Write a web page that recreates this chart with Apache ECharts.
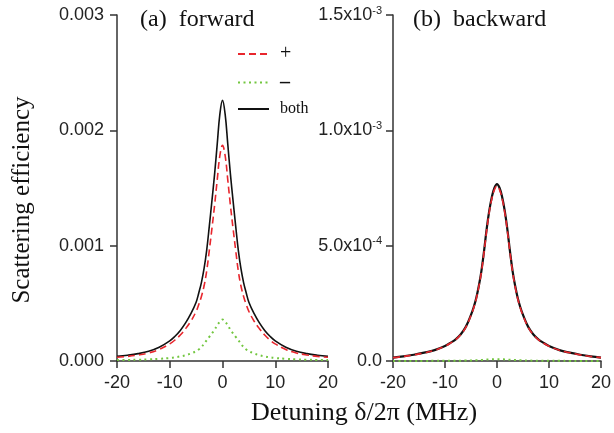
<!DOCTYPE html>
<html>
<head>
<meta charset="utf-8">
<script src="https://cdn.jsdelivr.net/npm/echarts@6/dist/echarts.min.js"></script>
<style>html,body{margin:0;padding:0;background:#fff}#c{width:614px;height:433px}</style>
</head>
<body>
<div id="c"></div>
<script>
// Detuning δ/2π (MHz)
const xs = [-20,-18,-16,-14,-12,-10,-9,-8,-7,-6,-5,-4.5,-4,-3.5,-3,-2.5,-2,-1.5,-1,-0.5,0,0.5,1,1.5,2,2.5,3,3.5,4,4.5,5,6,7,8,9,10,12,14,16,18,20];

// (a) forward
const fwdBoth = [0.00004,0.00005,0.000064,0.000085,0.00012,0.000175,0.000215,0.000265,0.00033,0.00041,0.00051,0.00059,0.00068,0.0008,0.00096,0.00117,0.00139,0.00162,0.00188,0.00214,0.00226,
                 0.00214,0.00188,0.00162,0.00139,0.00117,0.00096,0.0008,0.00068,0.00059,0.00051,0.00041,0.00033,0.000265,0.000215,0.000175,0.00012,0.000085,0.000064,0.00005,0.00004];
const fwdPlus = [0.000032,0.00004,0.000052,0.00007,0.0001,0.000148,0.000182,0.000225,0.00028,0.000345,0.00043,0.00049,0.00056,0.00065,0.00078,0.00096,0.00115,0.00135,0.00157,0.00178,0.00187,
                 0.00178,0.00157,0.00135,0.00115,0.00096,0.00078,0.00065,0.00056,0.00049,0.00043,0.000345,0.00028,0.000225,0.000182,0.000148,0.0001,0.00007,0.000052,0.00004,0.000032];
const fwdMinus = [0.000008,0.000009,0.000011,0.000014,0.000019,0.000026,0.000032,0.00004,0.00005,0.000065,0.000085,0.0001,0.00012,0.00015,0.00018,0.00021,0.00024,0.00027,0.00031,0.00034,0.00036,
                  0.00034,0.00031,0.00027,0.00024,0.00021,0.00018,0.00015,0.00012,0.0001,0.000085,0.000065,0.00005,0.00004,0.000032,0.000026,0.000019,0.000014,0.000011,0.000009,0.000008];

// (b) backward
const bwdBoth = [0.000015,0.00002,0.000027,0.000036,0.000047,0.000065,0.000078,0.000093,0.000115,0.000148,0.0002,0.000232,0.000272,0.000325,0.00039,0.000475,0.00057,0.00065,0.00071,0.00075,0.000767,
                 0.00075,0.00071,0.00065,0.00057,0.000475,0.00039,0.000325,0.000272,0.000232,0.0002,0.000148,0.000115,0.000093,0.000078,0.000065,0.000047,0.000036,0.000027,0.00002,0.000015];
const bwdPlus = [0.0000147,0.0000197,0.0000266,0.0000355,0.0000464,0.0000642,0.000077,0.0000918,0.0001135,0.000146,0.0001975,0.000229,0.000269,0.000321,0.000386,0.00047,0.000564,0.000643,0.000703,0.000742,0.000759,
                 0.000742,0.000703,0.000643,0.000564,0.00047,0.000386,0.000321,0.000269,0.000229,0.0001975,0.000146,0.0001135,0.0000918,0.000077,0.0000642,0.0000464,0.0000355,0.0000266,0.0000197,0.0000147];
const bwdMinus = [0.0000003,0.0000003,0.0000004,0.0000005,0.0000006,0.0000008,0.000001,0.0000012,0.0000015,0.0000019,0.0000025,0.0000029,0.0000033,0.0000039,0.0000045,0.0000052,0.000006,0.0000068,0.0000074,0.0000078,0.000008,
                  0.0000078,0.0000074,0.0000068,0.000006,0.0000052,0.0000045,0.0000039,0.0000033,0.0000029,0.0000025,0.0000019,0.0000015,0.0000012,0.000001,0.0000008,0.0000006,0.0000005,0.0000004,0.0000003,0.0000003];

// tick labels
const xTickLabels = ['-20','-10','0','10','20'];
const fwdTickLabels = ['0.000','0.001','0.002','0.003'];
const bwdTickBase = ['0.0','5.0x10','1.0x10','1.5x10'];
const bwdTickExp = ['','-4','-3','-3'];

const seriesNames = ['+','–','both'];
const panelTitles = ['(a)  forward','(b)  backward'];
const xTitle = 'Detuning δ/2π (MHz)';
const yTitle = 'Scattering efficiency';

const SANS = '"Liberation Sans", Arial, sans-serif';
const SERIF = '"Liberation Serif", "Times New Roman", serif';
const RED = '#e8262d', GREEN = '#72c63f', BLACK = '#111';
const AX = '#333';

const pairs = ys => xs.map((x, i) => [x, ys[i]]);

function xAxisCfg(gi) {
  return {
    type: 'value', gridIndex: gi, min: -20, max: 20, interval: 10,
    axisLine: {show: true, onZero: false, lineStyle: {color: AX, width: 1.5}},
    axisTick: {show: true, length: 7, lineStyle: {color: AX, width: 1.5}},
    splitLine: {show: false},
    axisLabel: {color: '#222', fontFamily: SANS, fontSize: 18, margin: 13,
      formatter: (v, i) => xTickLabels[i]}
  };
}
function yAxisCfg(gi, max, interval, fmt, margin, rich) {
  return {
    type: 'value', gridIndex: gi, min: 0, max: max, interval: interval,
    axisLine: {show: true, onZero: false, lineStyle: {color: AX, width: 1.5}},
    axisTick: {show: true, length: 7, lineStyle: {color: AX, width: 1.5}},
    splitLine: {show: false},
    axisLabel: {color: '#222', fontFamily: SANS, fontSize: 18, margin: margin, formatter: fmt, rich: rich}
  };
}

function lineSeries(name, data, xi, color, type, width, z) {
  return {
    name: name, type: 'line', xAxisIndex: xi, yAxisIndex: xi, data: pairs(data),
    symbol: 'none', smooth: 0.4, z: z, animation: false,
    lineStyle: {color: color, width: width, type: type, cap: 'butt'},
    itemStyle: {color: color}
  };
}

const chart = echarts.init(document.getElementById('c'));
chart.setOption({
  backgroundColor: '#fff',
  animation: false,
  grid: [
    {left: 117, right: 286, top: 15, bottom: 72},
    {left: 393, right: 10, top: 15, bottom: 72}
  ],
  xAxis: [xAxisCfg(0), xAxisCfg(1)],
  yAxis: [
    yAxisCfg(0, 0.003, 0.001, (v, i) => fwdTickLabels[i], 13),
    yAxisCfg(1, 0.0015, 0.0005,
      (v, i) => bwdTickExp[i] ? '{m|' + bwdTickBase[i] + '}{s|' + bwdTickExp[i] + '}' : '{m|' + bwdTickBase[i] + '}',
      11,
      {m: {fontFamily: SANS, fontSize: 18, color: '#222'},
       s: {fontFamily: SANS, fontSize: 11, color: '#222', verticalAlign: 'top', padding: [0, 0, 9, 0]}})
  ],
  legend: {
    data: seriesNames, orient: 'vertical', left: 232, top: 39,
    itemWidth: 31, itemHeight: 14, itemGap: 8.5,
    itemStyle: {opacity: 0},
    formatter: n => n === '–' ? '{b|' + n + '}' : (n === '+' ? '{p|' + n + '}' : '{t|' + n + '}'),
    textStyle: {fontFamily: SERIF, fontSize: 16, lineHeight: 14, height: 14, color: '#111', padding: [0, 0, 0, 6],
      rich: {b: {fontFamily: SERIF, fontSize: 20, lineHeight: 14, fontWeight: 'bold', color: '#111'},
             p: {fontFamily: SERIF, fontSize: 20, lineHeight: 14, color: '#111'},
             t: {fontFamily: SERIF, fontSize: 16, lineHeight: 14, color: '#111'}}}
  },
  series: [
    lineSeries('both', fwdBoth, 0, BLACK, 'solid', 1.6, 2),
    lineSeries('+', fwdPlus, 0, RED, [7, 4], 1.6, 3),
    lineSeries('–', fwdMinus, 0, GREEN, [2, 3.5], 2, 4),
    lineSeries('both', bwdBoth, 1, BLACK, 'solid', 2.2, 2),
    lineSeries('+', bwdPlus, 1, RED, [7, 4], 1.6, 3),
    lineSeries('–', bwdMinus, 1, GREEN, [2, 3.5], 2, 4)
  ],
  graphic: [
    {type: 'text', left: 140, top: 8, style: {text: panelTitles[0], font: '24px ' + SERIF, fill: '#111'}},
    {type: 'text', left: 413, top: 8, style: {text: panelTitles[1], font: '24px ' + SERIF, fill: '#111'}},
    {type: 'text', x: 364, y: 413, style: {text: xTitle, font: '26px ' + SERIF, fill: '#111', textAlign: 'center', textVerticalAlign: 'middle'}},
    {type: 'text', x: 22, y: 200, rotation: Math.PI / 2, style: {text: yTitle, font: '25px ' + SERIF, fill: '#111', textAlign: 'center', textVerticalAlign: 'middle'}}
  ]
});
</script>
</body>
</html>
